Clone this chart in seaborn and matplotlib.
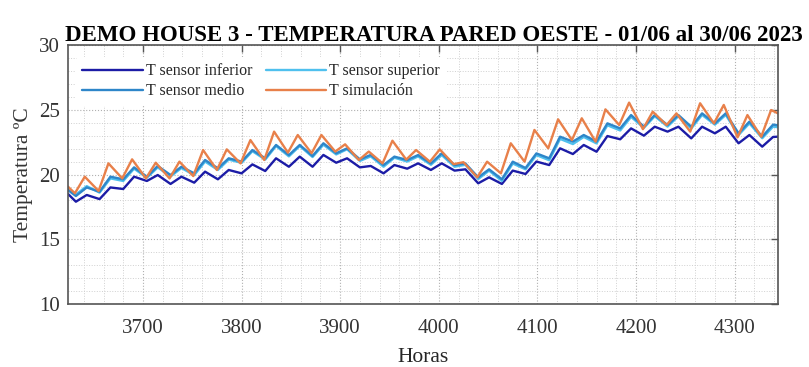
import numpy as np
import pandas as pd
import matplotlib
matplotlib.use("Agg")
import matplotlib.pyplot as plt
from matplotlib.ticker import MultipleLocator
from matplotlib.lines import Line2D
import seaborn as sns

# ---------------- data ----------------
n_dias = 30
hora_inicio = 3624
hora_fin = 4344

# sequence per series: start, (trough, peak) for each day, end
t_simulacion = [19.06,
    18.55, 19.83, 18.73, 20.86, 19.70, 21.17, 19.70, 20.91, 19.70, 20.99,
    19.88, 21.89, 20.35, 21.94, 20.86, 22.66, 21.12, 23.31, 21.69, 23.05,
    21.64, 23.05, 21.77, 22.33, 21.12, 21.77, 20.86, 22.61, 21.15, 21.89,
    20.99, 21.94, 20.80, 20.95, 19.78, 20.99, 20.09, 22.41, 20.99, 23.44,
    22.02, 24.26, 22.66, 24.34, 22.54, 25.03, 23.82, 25.55, 23.50, 24.85,
    23.82, 24.72, 23.31, 25.50, 23.95, 25.37, 22.87, 24.59, 22.92, 24.98,
    24.72]

t_medio = [18.8,
    18.34, 19.00, 18.67, 19.83, 19.63, 20.55, 19.83, 20.66, 19.96, 20.60,
    20.09, 21.12, 20.48, 21.25, 21.00, 21.89, 21.25, 22.28, 21.50, 22.28,
    21.43, 22.41, 21.64, 22.02, 21.17, 21.51, 20.73, 21.38, 21.12, 21.50,
    20.86, 21.63, 20.73, 20.85, 19.78, 20.40, 19.63, 20.99, 20.50, 21.63,
    21.25, 22.92, 22.54, 23.05, 22.54, 23.95, 23.56, 24.59, 23.70, 24.59,
    23.82, 24.59, 23.69, 24.72, 23.95, 24.72, 23.18, 24.08, 22.92, 23.85,
    23.80]

t_superior = [18.9,
    18.45, 19.10, 18.60, 19.70, 19.50, 20.45, 19.75, 20.55, 19.85, 20.50,
    19.95, 21.00, 20.35, 21.15, 20.90, 21.80, 21.15, 22.20, 21.40, 22.20,
    21.35, 22.30, 21.55, 21.95, 21.05, 21.40, 20.60, 21.30, 21.00, 21.40,
    20.75, 21.50, 20.60, 20.75, 19.65, 20.30, 19.50, 20.85, 20.40, 21.50,
    21.10, 22.75, 22.35, 22.90, 22.40, 23.80, 23.40, 24.45, 23.60, 24.50,
    23.70, 24.50, 23.55, 24.60, 23.85, 24.60, 23.05, 23.95, 22.80, 23.70,
    23.65]

t_inferior = [18.5,
    17.90, 18.42, 18.10, 19.00, 18.88, 19.83, 19.50, 19.96, 19.27, 19.83,
    19.37, 20.22, 19.63, 20.35, 20.09, 20.78, 20.27, 21.25, 20.60, 21.38,
    20.60, 21.51, 20.91, 21.25, 20.55, 20.66, 20.09, 20.73, 20.45, 20.86,
    20.35, 20.86, 20.30, 20.40, 19.32, 19.78, 19.27, 20.30, 20.04, 21.00,
    20.73, 22.02, 21.58, 22.28, 21.76, 22.97, 22.72, 23.56, 23.00, 23.69,
    23.31, 23.69, 22.79, 23.69, 23.18, 23.69, 22.41, 23.05, 22.15, 22.90,
    22.92]

etiquetas = ["T sensor inferior", "T sensor superior", "T sensor medio", "T simulación"]
x_ticks = [3700, 3800, 3900, 4000, 4100, 4200, 4300]
y_ticks = [10, 15, 20, 25, 30]

# sample hours: daily trough / peak times (sensors lag the simulation slightly)
def horas(h_min, h_max):
    dias = hora_inicio + 24 * np.arange(n_dias)
    h = np.column_stack([dias + h_min, dias + h_max]).ravel()
    return np.concatenate([[hora_inicio], h, [hora_fin]])

h_sim = horas(7, 17)
h_sen = horas(8, 19)

df = pd.concat([
    pd.DataFrame({"Horas": h_sen, "T": t_inferior, "serie": etiquetas[0]}),
    pd.DataFrame({"Horas": h_sen, "T": t_superior, "serie": etiquetas[1]}),
    pd.DataFrame({"Horas": h_sen, "T": t_medio, "serie": etiquetas[2]}),
    pd.DataFrame({"Horas": h_sim, "T": t_simulacion, "serie": etiquetas[3]}),
], ignore_index=True)

colores = {
    etiquetas[0]: "#1c1ca6",
    etiquetas[1]: "#4fc0ee",
    etiquetas[2]: "#2e86c9",
    etiquetas[3]: "#e8804a",
}

# ---------------- plot ----------------
sns.set_theme(style="white")
plt.rcParams["font.family"] = ["Liberation Serif", "DejaVu Serif"]

fig = plt.figure(figsize=(8.09, 3.67), dpi=100)
ax = fig.add_axes([68 / 809, 1 - 304 / 367, (778 - 68) / 809, (304 - 45) / 367])

sns.lineplot(data=df, x="Horas", y="T", hue="serie", palette=colores,
             hue_order=etiquetas, sort=False, linewidth=1.7, ax=ax,
             legend=False)

ax.set_xlim(hora_inicio, hora_fin)
ax.set_ylim(10, 30)
ax.set_xticks(x_ticks)
ax.set_yticks(y_ticks)
ax.xaxis.set_minor_locator(MultipleLocator(20))
ax.yaxis.set_minor_locator(MultipleLocator(1))
ax.grid(which="major", linestyle=":", color="#b0b0b0", linewidth=0.8)
ax.grid(which="minor", linestyle=":", color="#d0d0d0", linewidth=0.7)
ax.set_axisbelow(True)

ax.tick_params(which="major", direction="in", length=5, width=1, top=True,
               right=True, labelsize=15, colors="#555555", labelcolor="#333333")
ax.tick_params(axis="x", which="major", pad=11)
ax.tick_params(axis="y", which="major", pad=6)
ax.tick_params(which="minor", length=0, top=True, right=True)
for s in ax.spines.values():
    s.set_visible(True)
    s.set_color("#555555")
    s.set_linewidth(1.2)

ax.set_xlabel("Horas", fontsize=15.5, color="#262626", labelpad=7)
ax.set_ylabel("Temperatura ºC", fontsize=15.5, color="#333333", labelpad=4)
ax.set_title("DEMO HOUSE 3 - TEMPERATURA PARED OESTE - 01/06 al 30/06 2023",
             fontsize=16.5, fontweight="bold", color="black", pad=3, x=0.515)

orden = [etiquetas[0], etiquetas[2], etiquetas[1], etiquetas[3]]
hs = [Line2D([0], [0], color=colores[e], linewidth=1.7) for e in orden]
leg = ax.legend(hs, orden, loc="upper left", ncol=2, fontsize=11.5,
                frameon=True, handlelength=3.8, handletextpad=0.2,
                columnspacing=0.8, labelspacing=0.25, borderaxespad=0.5,
                bbox_to_anchor=(0.0, 0.985))
leg.get_frame().set_facecolor("white")
leg.get_frame().set_edgecolor("none")
leg.get_frame().set_alpha(1.0)

fig.savefig("out.png", dpi=100)
